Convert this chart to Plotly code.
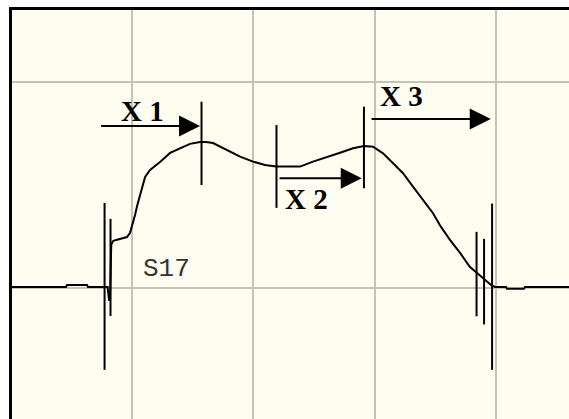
import plotly.graph_objects as go

# Waveform trace, in grid divisions (x: time, y: amplitude)
wave_x = [0.012, 0.457, 0.466, 0.630, 0.639, 0.771, 0.800, 0.812, 0.820, 0.830,
          0.845, 0.870, 0.902, 0.960, 0.985, 1.010, 1.026, 1.043, 1.067, 1.109,
          1.150, 1.232, 1.315, 1.397, 1.479, 1.562, 1.611, 1.669, 1.784, 1.892,
          1.999, 2.098, 2.188, 2.386, 2.493, 2.609, 2.716, 2.823, 2.913, 2.988,
          3.070, 3.153, 3.235, 3.317, 3.400, 3.482, 3.548, 3.622, 3.705, 3.787,
          3.845, 3.894, 3.960, 3.993, 4.084, 4.092, 4.232, 4.240, 4.603]
wave_y = [0.006, 0.006, 0.016, 0.016, 0.006, 0.006, 0.006, -0.057, -0.057, 0.210,
          0.229, 0.234, 0.239, 0.248, 0.268, 0.316, 0.355, 0.398, 0.452, 0.539,
          0.573, 0.611, 0.655, 0.679, 0.699, 0.708, 0.708, 0.703, 0.669, 0.637,
          0.613, 0.597, 0.589, 0.589, 0.613, 0.634, 0.656, 0.678, 0.689, 0.685,
          0.653, 0.605, 0.557, 0.492, 0.427, 0.363, 0.297, 0.234, 0.171, 0.103,
          0.074, 0.050, 0.016, 0.006, 0.006, -0.003, -0.003, 0.006, 0.006]

# Vertical event markers: position, lower end, upper end
marker_x = [0.775, 0.824, 1.574, 2.192, 2.913, 3.841, 3.903, 3.969]
marker_lo = [-0.395, -0.134, 0.500, 0.389, 0.484, -0.136, -0.175, -0.395]
marker_hi = [0.413, 0.336, 0.903, 0.790, 0.879, 0.273, 0.239, 0.410]

# Interval arrows: label, tail x, head x, arrow y, label x, label y
arrow_labels = ["X 1", "X 2", "X 3"]
arrow_tail_x = [0.734, 2.205, 2.963]
arrow_head_x = [1.562, 2.895, 3.958]
arrow_y = [0.786, 0.532, 0.819]
label_x = [1.088, 2.440, 3.223]
label_y = [0.858, 0.432, 0.931]

lead_name = "S17"
lead_pos = (1.282, 0.093)

x_range = [0.012, 4.603]
y_range = [-0.633, 1.347]

bg = "#fffdf0"
grid = "#c4c4b4"

fig = go.Figure()

fig.add_trace(go.Scatter(x=wave_x, y=wave_y, mode="lines",
                         line=dict(color="black", width=2), hoverinfo="skip"))

mx, my = [], []
for x, lo, hi in zip(marker_x, marker_lo, marker_hi):
    mx += [x, x, None]
    my += [lo, hi, None]
fig.add_trace(go.Scatter(x=mx, y=my, mode="lines",
                         line=dict(color="black", width=2), hoverinfo="skip"))

for lab, tx, hx, ay, lx, ly in zip(arrow_labels, arrow_tail_x, arrow_head_x,
                                   arrow_y, label_x, label_y):
    fig.add_annotation(x=hx, y=ay, ax=tx, ay=ay, xref="x", yref="y",
                       axref="x", ayref="y", text="", showarrow=True,
                       arrowhead=2, arrowsize=2.1, arrowwidth=2,
                       arrowcolor="black", standoff=0, startstandoff=0)
    fig.add_annotation(x=lx, y=ly, xref="x", yref="y", text=f"<b>{lab}</b>",
                       showarrow=False, xanchor="center", yanchor="middle",
                       font=dict(family="Liberation Serif", size=29, color="black"))

fig.add_annotation(x=lead_pos[0], y=lead_pos[1], xref="x", yref="y",
                   text=lead_name, showarrow=False, xanchor="center",
                   yanchor="middle",
                   font=dict(family="Liberation Mono", size=26, color="#333333"))

# Black frame on the left and top edges
fig.add_shape(type="rect", xref="paper", yref="paper",
              x0=-3 / 557, x1=0, y0=0, y1=1 + 3 / 409,
              fillcolor="black", line=dict(width=0), layer="above")
fig.add_shape(type="rect", xref="paper", yref="paper",
              x0=-3 / 557, x1=1, y0=1, y1=1 + 3 / 409,
              fillcolor="black", line=dict(width=0), layer="above")

fig.update_layout(
    width=569, height=419,
    margin=dict(l=12, r=0, t=10, b=0),
    paper_bgcolor="white", plot_bgcolor=bg,
    showlegend=False,
    xaxis=dict(range=x_range, dtick=1, tick0=0, showgrid=True, gridcolor=grid,
               gridwidth=2, zeroline=False, showticklabels=False, ticks="",
               showline=False, fixedrange=True),
    yaxis=dict(range=y_range, dtick=1, tick0=0, showgrid=True, gridcolor=grid,
               gridwidth=2, zeroline=False, showticklabels=False, ticks="",
               showline=False, fixedrange=True),
)

fig.write_html("out.html", config={"displayModeBar": False})
